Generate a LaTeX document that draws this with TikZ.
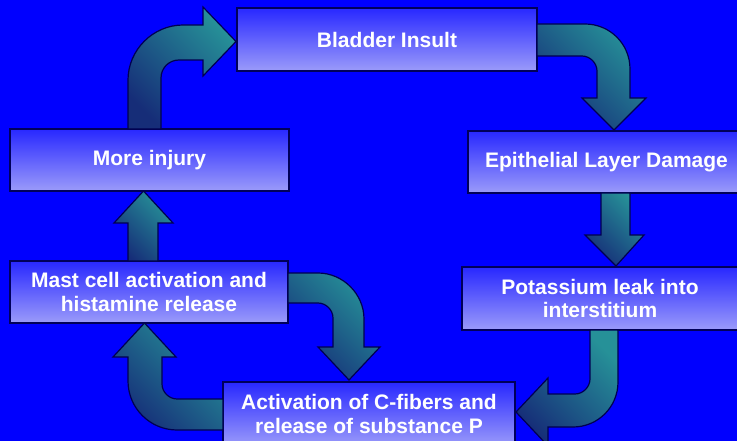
\documentclass[tikz,border=0pt]{standalone}
\usepackage{fontspec}
\setmainfont{Liberation Sans}
\definecolor{bg}{RGB}{0,0,255}
\definecolor{boxtop}{RGB}{40,40,255}
\definecolor{boxbot}{RGB}{155,155,250}
\definecolor{boxline}{RGB}{0,0,90}
\definecolor{arrlight}{RGB}{38,145,152}
\definecolor{arrdark}{RGB}{22,45,120}
\definecolor{arrline}{RGB}{0,0,80}
\tikzset{
  stepbox/.style={rectangle, draw=boxline, line width=1.3pt, top color=boxtop, bottom color=boxbot,
    text=white, font=\fontsize{21}{23.5}\selectfont\bfseries, align=center, inner sep=0pt},
  blockarrow/.style={draw=arrline, line width=1.2pt, line join=miter, top color=arrlight, bottom color=arrdark, shading angle=-45}
}
\begin{document}
\begin{tikzpicture}[x=1pt,y=-1pt]
\fill[bg] (0,0) rectangle (737,441);
\useasboundingbox (0,0) rectangle (737,441);
\clip (0,0) rectangle (737,441);

\node[stepbox, minimum width=300pt, minimum height=63pt] (bladder) at (387,39.5) {Bladder Insult};
\node[stepbox, minimum width=277pt, minimum height=62pt] (epi) at (606.5,162) {Epithelial Layer Damage};
\node[stepbox, minimum width=276pt, minimum height=63pt] (pot) at (600,298.5) {Potassium leak into\\interstitium};
\node[stepbox, minimum width=292pt, minimum height=64pt] (act) at (369,414) {Activation of C-fibers and\\release of substance P};
\node[stepbox, minimum width=278pt, minimum height=62pt] (mast) at (149,292) {Mast cell activation and\\histamine release};
\node[stepbox, minimum width=279pt, minimum height=62pt] (more) at (149.5,160) {More injury};

% More injury -> Bladder Insult
\draw[blockarrow] (128,129) -- (128,80) .. controls (128,50) and (153,25) .. (183,25) -- (203,25) -- (203,7) -- (236,41.5) -- (203,76) -- (203,60) -- (179,60) .. controls (169,60) and (161,68) .. (161,78) -- (161,129) -- cycle;

% Bladder Insult -> Epithelial
\draw[blockarrow] (537,24) -- (585,24) .. controls (610,24) and (630,44) .. (630,69) -- (630,98) -- (646,98) -- (614,130) -- (582,98) -- (597,98) -- (597,71) .. controls (597,63) and (590,56) .. (582,56) -- (537,56) -- cycle;

% Epithelial -> Potassium
\draw[blockarrow] (601,193) -- (601,235) -- (585,235) -- (616,266) -- (644,235) -- (630,235) -- (630,193) -- cycle;

% Potassium -> Activation
\draw[blockarrow] (618,330) -- (618,382) .. controls (618,407) and (598,427) .. (573,427) -- (548,427) -- (548,446) -- (516,412) -- (548,378) -- (548,394) -- (575,394) .. controls (583,394) and (590,387) .. (590,379) -- (590,330) -- cycle;

% Mast -> Activation
\draw[blockarrow] (288,273) -- (318,273) .. controls (343,273) and (364,294) .. (364,319) -- (364,347) -- (380,347) -- (349,380) -- (318,347) -- (333,347) -- (333,318) .. controls (333,310) and (326,303) .. (318,303) -- (288,303) -- cycle;

% Activation -> Mast
\draw[blockarrow] (223,399) -- (177,399) .. controls (169,399) and (162,392) .. (162,384) -- (162,357) -- (176,357) -- (144.5,323) -- (113,357) -- (128,357) -- (128,381) .. controls (128,408) and (150,430) .. (177,430) -- (223,430) -- cycle;

% Mast -> More injury
\draw[blockarrow] (128,261) -- (128,223) -- (114,223) -- (143.5,191) -- (173,223) -- (158,223) -- (158,261) -- cycle;
\end{tikzpicture}
\end{document}
